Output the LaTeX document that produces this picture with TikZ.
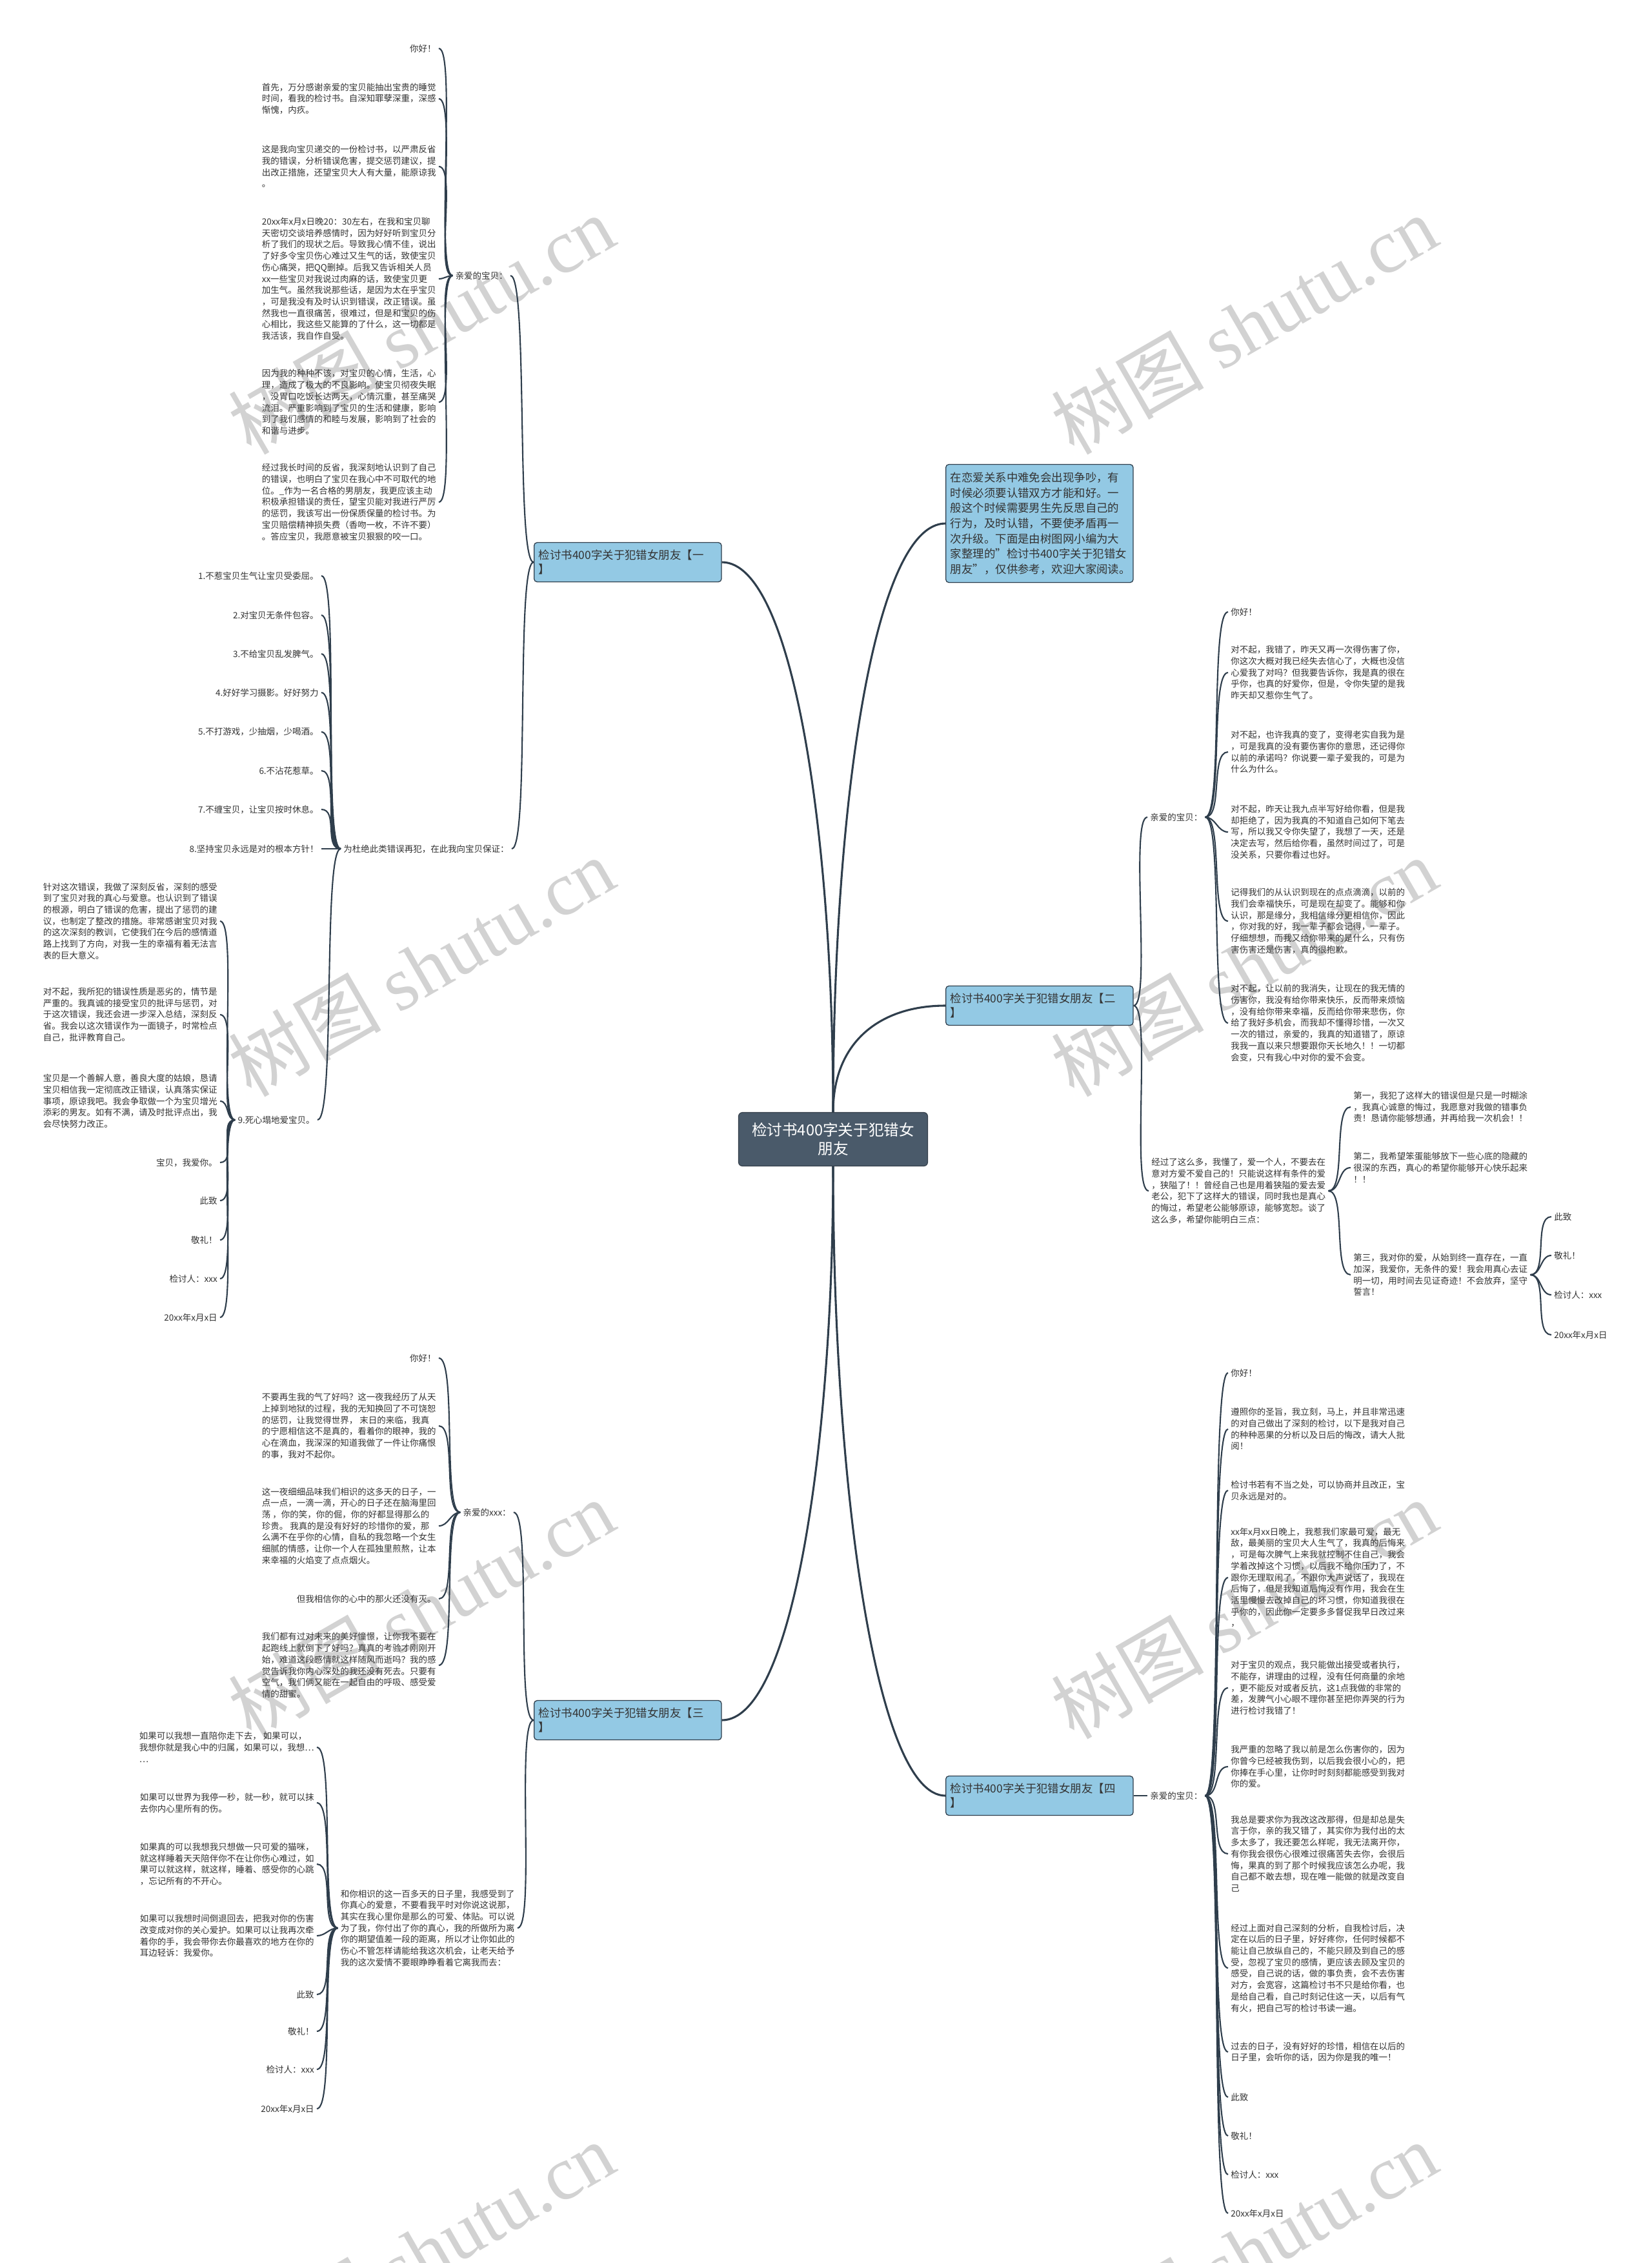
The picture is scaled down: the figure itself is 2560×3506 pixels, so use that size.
\documentclass[tikz,border=0pt]{standalone}
\usepackage{fontspec}
\setmainfont{Noto Sans CJK SC}
\newfontfamily\wmfont{Liberation Serif}
\usepackage{xcolor}
\usepackage{tikz}
\definecolor{slateline}{HTML}{2F3E4C}
\definecolor{rootfill}{HTML}{4A5A6A}
\definecolor{branchfill}{HTML}{93C9E4}
\definecolor{leaftext}{HTML}{333333}
\definecolor{markgray}{HTML}{D2D2D2}

\begin{document}
\begin{tikzpicture}[
    x=0.25mm, y=-0.25mm,
    rootbox/.style={draw=rootfill!70!black, line width=0.8pt, fill=rootfill,
                    rounded corners=1.5mm, text=white, align=center,
                    font=\fontsize{16.8}{21}\selectfont,
                    minimum width=73.25mm, minimum height=20.75mm},
    branchbox/.style={draw=slateline, line width=0.9pt, fill=branchfill,
                      rounded corners=1.2mm, text=leaftext, align=left,
                      font=\fontsize{12.4}{16}\selectfont, text width=69mm,
                      inner xsep=1.8mm, inner ysep=2mm,
                      minimum height=15.25mm, anchor=west},
    introbox/.style={branchbox, font=\fontsize{12.4}{16.8}\selectfont,
                     minimum height=45.75mm},
    leaf/.style={text=leaftext, font=\fontsize{9.6}{12.6}\selectfont,
                 align=left, inner sep=1mm},
    lleaf/.style={leaf, anchor=east},
    rleaf/.style={leaf, anchor=west},
    link/.style={draw=slateline, line width=1.5pt},
    lbranch/.style={link, out=180, in=0, max distance=7mm},
    rbranch/.style={link, out=0, in=180, max distance=7mm},
    trunk/.style={draw=slateline, line width=2.2pt},
    watermark/.style={text=markgray, font=\fontsize{84}{86}\selectfont,
                      rotate=30, inner sep=0pt}
]
    \useasboundingbox (0,0) rectangle (2560,3506);
    \fill[white] (0,0) rectangle (2560,3506);

    % watermarks
    \foreach \wx/\wy in {653/503,1928/503,653/1498,1928/1498,
                         653/2493,1928/2493,653/3488,1928/3488}
        \node[watermark] at (\wx,\wy) {树图 {\wmfont shutu.cn}};

    % centre and first level
    \node[rootbox] (root) at (1291,1765) {检讨书400字关于犯错女\\朋友};
    \node[introbox] (intro) at (1465,811)
        {在恋爱关系中难免会出现争吵，有\\时候必须要认错双方才能和好。一\\般这个时候需要男生先反思自己的\\行为，及时认错，不要使矛盾再一\\次升级。下面是由树图网小编为大\\家整理的"检讨书400字关于犯错女\\朋友"，仅供参考，欢迎大家阅读。};
    \node[branchbox] (b1) at (827,871) {检讨书400字关于犯错女朋友【一\\】};
    \node[branchbox] (b2) at (1465,1558) {检讨书400字关于犯错女朋友【二\\】};
    \node[branchbox] (b3) at (827,2665) {检讨书400字关于犯错女朋友【三\\】};
    \node[branchbox] (b4) at (1465,2782) {检讨书400字关于犯错女朋友【四\\】};

    \draw[trunk] (root.north) .. controls +(0,-430) and +(110,0) .. (b1.east);
    \draw[trunk] (root.north) .. controls +(0,-480) and +(-110,0) .. (intro.west);
    \draw[trunk] (root.north) .. controls +(0,-110) and +(-100,0) .. (b2.west);
    \draw[trunk] (root.south) .. controls +(0,430) and +(110,0) .. (b3.east);
    \draw[trunk] (root.south) .. controls +(0,480) and +(-110,0) .. (b4.west);

    % branch one
    \node[lleaf] (b1l1) at (791,427) {亲爱的宝贝：};
    \node[lleaf] (b1l2) at (793,1315) {为杜绝此类错误再犯，在此我向宝贝保证：};
    \draw[lbranch] (b1.west) to (b1l1.east);
    \draw[lbranch] (b1.west) to (b1l2.east);

    \node[lleaf] (b1a) at (680,75) {你好！};
    \node[lleaf] (b1b) at (680,153)
        {首先，万分感谢亲爱的宝贝能抽出宝贵的睡觉\\时间，看我的检讨书。自深知罪孽深重，深感\\惭愧，内疚。};
    \node[lleaf] (b1c) at (680,258)
        {这是我向宝贝递交的一份检讨书，以严肃反省\\我的错误，分析错误危害，提交惩罚建议，提\\出改正措施，还望宝贝大人有大量，能原谅我\\。};
    \node[lleaf] (b1d) at (680,432)
        {20xx年x月x日晚20：30左右，在我和宝贝聊\\天密切交谈培养感情时，因为好好听到宝贝分\\析了我们的现状之后。导致我心情不佳，说出\\了好多令宝贝伤心难过又生气的话，致使宝贝\\伤心痛哭，把QQ删掉。后我又告诉相关人员\\xx一些宝贝对我说过肉麻的话，致使宝贝更\\加生气。虽然我说那些话，是因为太在乎宝贝\\，可是我没有及时认识到错误，改正错误。虽\\然我也一直很痛苦，很难过，但是和宝贝的伤\\心相比，我这些又能算的了什么，这一切都是\\我活该，我自作自受。};
    \node[lleaf] (b1e) at (680,623)
        {因为我的种种不该，对宝贝的心情，生活，心\\理，造成了极大的不良影响。使宝贝彻夜失眠\\，没胃口吃饭长达两天，心情沉重，甚至痛哭\\流泪。严重影响到了宝贝的生活和健康，影响\\到了我们感情的和睦与发展，影响到了社会的\\和谐与进步。};
    \node[lleaf] (b1f) at (680,778)
        {经过我长时间的反省，我深刻地认识到了自己\\的错误，也明白了宝贝在我心中不可取代的地\\位。\_作为一名合格的男朋友，我更应该主动\\积极承担错误的责任，望宝贝能对我进行严厉\\的惩罚，我该写出一份保质保量的检讨书。为\\宝贝赔偿精神损失费（香吻一枚，不许不要）\\。答应宝贝，我愿意被宝贝狠狠的咬一口。};
    \foreach \n in {b1a,b1b,b1c,b1d,b1e,b1f}
        \draw[lbranch] (b1l1.west) to (\n.east);

    \foreach \i/\y/\t in {1/892/{1.不惹宝贝生气让宝贝受委屈。},
                          2/953/{2.对宝贝无条件包容。},
                          3/1013/{3.不给宝贝乱发脾气。},
                          4/1073/{4.好好学习摄影。好好努力},
                          5/1134/{5.不打游戏，少抽烟，少喝酒。},
                          6/1194/{6.不沾花惹草。},
                          7/1254/{7.不缠宝贝，让宝贝按时休息。},
                          8/1315/{8.坚持宝贝永远是对的根本方针！}}
        \node[lleaf] (p\i) at (498,\y) {\t};
    \node[lleaf] (p9) at (492,1735) {9.死心塌地爱宝贝。};
    \foreach \n in {p1,p2,p3,p4,p5,p6,p7,p8,p9}
        \draw[lbranch] (b1l2.west) to (\n.east);

    \node[lleaf] (q1) at (341,1427)
        {针对这次错误，我做了深刻反省，深刻的感受\\到了宝贝对我的真心与爱意。也认识到了错误\\的根源，明白了错误的危害，提出了惩罚的建\\议，也制定了整改的措施。非常感谢宝贝对我\\的这次深刻的教训，它使我们在今后的感情道\\路上找到了方向，对我一生的幸福有着无法言\\表的巨大意义。};
    \node[lleaf] (q2) at (341,1572)
        {对不起，我所犯的错误性质是恶劣的，情节是\\严重的。我真诚的接受宝贝的批评与惩罚，对\\于这次错误，我还会进一步深入总结，深刻反\\省。我会以这次错误作为一面镜子，时常检点\\自己，批评教育自己。};
    \node[lleaf] (q3) at (341,1706)
        {宝贝是一个善解人意，善良大度的姑娘，恳请\\宝贝相信我一定彻底改正错误，认真落实保证\\事项，原谅我吧。我会争取做一个为宝贝增光\\添彩的男友。如有不满，请及时批评点出，我\\会尽快努力改正。};
    \foreach \i/\y/\t in {4/1801/{宝贝，我爱你。}, 5/1860/{此致}, 6/1921/{敬礼！},
                          7/1981/{检讨人：xxx}, 8/2041/{20xx年x月x日}}
        \node[lleaf] (q\i) at (341,\y) {\t};
    \foreach \n in {q1,q2,q3,q4,q5,q6,q7,q8}
        \draw[lbranch] (p9.west) to (\n.east);

    % branch two
    \node[rleaf] (b2l1) at (1778,1266) {亲爱的宝贝：};
    \node[rleaf] (b2l2) at (1780,1845)
        {经过了这么多，我懂了，爱一个人，不要去在\\意对方爱不爱自己的！只能说这样有条件的爱\\，狭隘了！！曾经自己也是用着狭隘的爱去爱\\老公，犯下了这样大的错误，同时我也是真心\\的悔过，希望老公能够原谅，能够宽恕。谈了\\这么多，希望你能明白三点：};
    \draw[rbranch] (b2.east) to (b2l1.west);
    \draw[rbranch] (b2.east) to (b2l2.west);

    \node[rleaf] (r1) at (1903,948) {你好！};
    \node[rleaf] (r2) at (1903,1042)
        {对不起，我错了，昨天又再一次得伤害了你，\\你这次大概对我已经失去信心了，大概也没信\\心爱我了对吗？但我要告诉你，我是真的很在\\乎你，也真的好爱你，但是，令你失望的是我\\昨天却又惹你生气了。};
    \node[rleaf] (r3) at (1903,1165)
        {对不起，也许我真的变了，变得老实自我为是\\，可是我真的没有要伤害你的意思，还记得你\\以前的承诺吗？你说要一辈子爱我的，可是为\\什么为什么。};
    \node[rleaf] (r4) at (1903,1289)
        {对不起，昨天让我九点半写好给你看，但是我\\却拒绝了，因为我真的不知道自己如何下笔去\\写，所以我又令你失望了，我想了一天，还是\\决定去写，然后给你看，虽然时间过了，可是\\没关系，只要你看过也好。};
    \node[rleaf] (r5) at (1903,1427)
        {记得我们的从认识到现在的点点滴滴，以前的\\我们会幸福快乐，可是现在却变了。能够和你\\认识，那是缘分，我相信缘分更相信你，因此\\，你对我的好，我一辈子都会记得，一辈子。\\仔细想想，而我又给你带来的是什么，只有伤\\害伤害还是伤害，真的很抱歉。};
    \node[rleaf] (r6) at (1903,1585)
        {对不起，让以前的我消失，让现在的我无情的\\伤害你，我没有给你带来快乐，反而带来烦恼\\，没有给你带来幸福，反而给你带来悲伤，你\\给了我好多机会，而我却不懂得珍惜，一次又\\一次的错过，亲爱的，我真的知道错了，原谅\\我我一直以来只想要跟你天长地久！！一切都\\会变，只有我心中对你的爱不会变。};
    \foreach \n in {r1,r2,r3,r4,r5,r6}
        \draw[rbranch] (b2l1.east) to (\n.west);

    \node[rleaf] (s1) at (2093,1715)
        {第一，我犯了这样大的错误但是只是一时糊涂\\，我真心诚意的悔过，我愿意对我做的错事负\\责！恳请你能够想通，并再给我一次机会！！};
    \node[rleaf] (s2) at (2093,1809)
        {第二，我希望笨蛋能够放下一些心底的隐藏的\\很深的东西，真心的希望你能够开心快乐起来\\！！};
    \node[rleaf] (s3) at (2093,1975)
        {第三，我对你的爱，从始到终一直存在，一直\\加深，我爱你，无条件的爱！我会用真心去证\\明一切，用时间去见证奇迹！不会放弃，坚守\\誓言！};
    \foreach \n in {s1,s2,s3}
        \draw[rbranch] (b2l2.east) to (\n.west);

    \foreach \i/\y/\t in {1/1885/{此致}, 2/1945/{敬礼！},
                          3/2006/{检讨人：xxx}, 4/2068/{20xx年x月x日}}
        \node[rleaf] (t\i) at (2404,\y) {\t};
    \foreach \n in {t1,t2,t3,t4}
        \draw[rbranch] (s3.east) to (\n.west);

    % branch three
    \node[lleaf] (b3l1) at (796,2343) {亲爱的xxx：};
    \node[lleaf] (b3l2) at (802,2987)
        {和你相识的这一百多天的日子里，我感受到了\\你真心的爱意，不要看我平时对你说这说那，\\其实在我心里你是那么的可爱、体贴。可以说\\为了我，你付出了你的真心，我的所做所为离\\你的期望值差一段的距离，所以才让你如此的\\伤心不管怎样请能给我这次机会，让老天给予\\我的这次爱情不要眼睁睁看着它离我而去：};
    \draw[lbranch] (b3.west) to (b3l1.east);
    \draw[lbranch] (b3.west) to (b3l2.east);

    \node[lleaf] (u1) at (680,2104) {你好！};
    \node[lleaf] (u2) at (680,2209)
        {不要再生我的气了好吗？这一夜我经历了从天\\上掉到地狱的过程，我的无知换回了不可饶恕\\的惩罚，让我觉得世界， 末日的来临，我真\\的宁愿相信这不是真的，看着你的眼神，我的\\心在滴血，我深深的知道我做了一件让你痛恨\\的事，我对不起你。};
    \node[lleaf] (u3) at (680,2364)
        {这一夜细细品味我们相识的这多天的日子，一\\点一点，一滴一滴，开心的日子还在脑海里回\\荡 ，你的笑，你的倔，你的好都显得那么的\\珍贵。 我真的是没有好好的珍惜你的爱，那\\么满不在乎你的心情，自私的我忽略一个女生\\细腻的情感，让你一个人在孤独里煎熬，让本\\来幸福的火焰变了点点烟火。};
    \node[lleaf] (u4) at (680,2477) {但我相信你的心中的那火还没有灭。};
    \node[lleaf] (u5) at (680,2580)
        {我们都有过对未来的美好憧憬，让你我不要在\\起跑线上就倒下了好吗？真真的考验才刚刚开\\始，难道这段感情就这样随风而逝吗？我的感\\觉告诉我你内心深处的我还没有死去。只要有\\空气，我们俩又能在一起自由的呼吸、感受爱\\情的甜蜜。};
    \foreach \n in {u1,u2,u3,u4,u5}
        \draw[lbranch] (b3l1.west) to (\n.east);

    \node[lleaf] (v1) at (491,2707)
        {如果可以我想一直陪你走下去， 如果可以，\\我想你就是我心中的归属，如果可以，我想…\\…};
    \node[lleaf] (v2) at (491,2793)
        {如果可以世界为我停一秒，就一秒，就可以抹\\去你内心里所有的伤。};
    \node[lleaf] (v3) at (491,2888)
        {如果真的可以我想我只想做一只可爱的猫咪，\\就这样睡着天天陪伴你不在让你伤心难过，如\\果可以就这样，就这样，睡着、感受你的心跳\\，忘记所有的不开心。};
    \node[lleaf] (v4) at (491,2999)
        {如果可以我想时间倒退回去，把我对你的伤害\\改变成对你的关心爱护。如果可以让我再次牵\\着你的手，我会带你去你最喜欢的地方在你的\\耳边轻诉：我爱你。};
    \foreach \i/\y/\t in {5/3090/{此致}, 6/3147/{敬礼！},
                          7/3206/{检讨人：xxx}, 8/3267/{20xx年x月x日}}
        \node[lleaf] (v\i) at (491,\y) {\t};
    \foreach \n in {v1,v2,v3,v4,v5,v6,v7,v8}
        \draw[lbranch] (b3l2.west) to (\n.east);

    % branch four
    \node[rleaf] (b4l1) at (1778,2782) {亲爱的宝贝：};
    \draw[rbranch] (b4.east) to (b4l1.west);

    \node[rleaf] (w1) at (1903,2127) {你好！};
    \node[rleaf] (w2) at (1903,2214)
        {遵照你的圣旨，我立刻，马上，并且非常迅速\\的对自己做出了深刻的检讨，以下是我对自己\\的种种恶果的分析以及日后的悔改，请大人批\\阅！};
    \node[rleaf] (w3) at (1903,2309)
        {检讨书若有不当之处，可以协商并且改正，宝\\贝永远是对的。};
    \node[rleaf] (w4) at (1903,2444)
        {xx年x月xx日晚上，我惹我们家最可爱，最无\\敌，最美丽的宝贝大人生气了，我真的后悔来\\，可是每次脾气上来我就控制不住自己，我会\\学着改掉这个习惯，以后我不给你压力了，不\\跟你无理取闹了，不跟你大声说话了，我现在\\后悔了，但是我知道后悔没有作用，我会在生\\活里慢慢去改掉自己的坏习惯，你知道我很在\\乎你的，因此你一定要多多督促我早日改过来\\，};
    \node[rleaf] (w5) at (1903,2615)
        {对于宝贝的观点，我只能做出接受或者执行，\\不能存，讲理由的过程，没有任何商量的余地\\，更不能反对或者反抗，这1点我做的非常的\\差，发脾气小心眼不理你甚至把你弄哭的行为\\进行检讨我错了！};
    \node[rleaf] (w6) at (1903,2737)
        {我严重的忽略了我以前是怎么伤害你的，因为\\你曾今已经被我伤到，以后我会很小心的，把\\你捧在手心里，让你时时刻刻都能感受到我对\\你的爱。};
    \node[rleaf] (w7) at (1903,2872)
        {我总是要求你为我改这改那得，但是却总是失\\言于你，亲的我又错了，其实你为我付出的太\\多太多了，我还要怎么样呢，我无法离开你，\\有你我会很伤心很难过很痛苦失去你，会很后\\悔，果真的到了那个时候我应该怎么办呢，我\\自己都不敢去想，现在唯一能做的就是改变自\\己};
    \node[rleaf] (w8) at (1903,3049)
        {经过上面对自己深刻的分析，自我检讨后，决\\定在以后的日子里，好好疼你，任何时候都不\\能让自己放纵自己的，不能只顾及到自己的感\\受，忽视了宝贝的感情，更应该去顾及宝贝的\\感受，自己说的话，做的事负责，会不去伤害\\对方，会宽容，这篇检讨书不只是给你看，也\\是给自己看，自己时刻记住这一天，以后有气\\有火，把自己写的检讨书读一遍。};
    \node[rleaf] (w9) at (1903,3179)
        {过去的日子，没有好好的珍惜，相信在以后的\\日子里，会听你的话，因为你是我的唯一！};
    \foreach \i/\y/\t in {10/3249/{此致}, 11/3309/{敬礼！},
                          12/3369/{检讨人：xxx}, 13/3429/{20xx年x月x日}}
        \node[rleaf] (w\i) at (1903,\y) {\t};
    \foreach \n in {w1,w2,w3,w4,w5,w6,w7,w8,w9,w10,w11,w12,w13}
        \draw[rbranch] (b4l1.east) to (\n.west);
\end{tikzpicture}
\end{document}
